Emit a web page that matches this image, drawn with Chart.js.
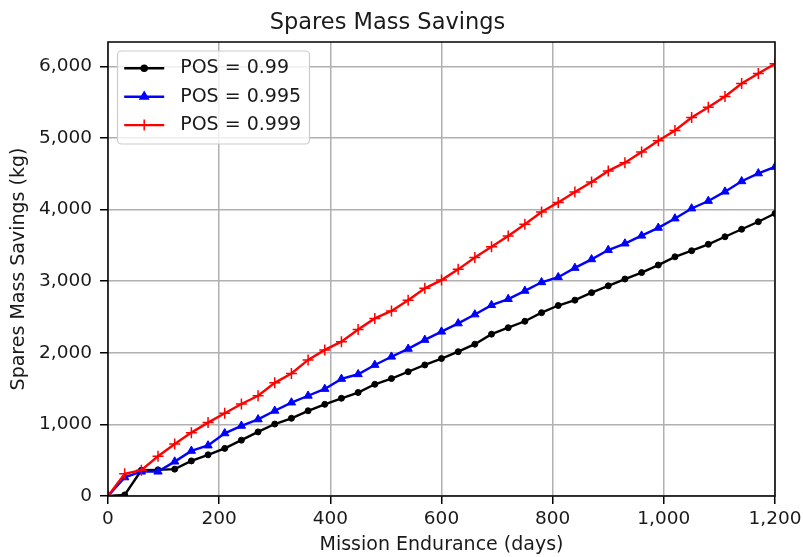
<!DOCTYPE html>
<html>
<head>
<meta charset="utf-8">
<title>Spares Mass Savings</title>
<script src="https://cdn.jsdelivr.net/npm/chart.js@4/dist/chart.umd.min.js"></script>
<style>
    body { margin: 0; background: #ffffff; }
    canvas { display: block; }
</style>
</head>
<body>
<canvas id="myChart" width="803" height="557"></canvas>
<script>
// ミッション日数（x軸）
const days = [
    0, 30, 60, 90, 120, 150, 180, 210, 240, 270, 300, 330, 360, 390,
    420, 450, 480, 510, 540, 570, 600, 630, 660, 690, 720, 750, 780, 810,
    840, 870, 900, 930, 960, 990, 1020, 1050, 1080, 1110, 1140, 1170, 1200,
];

// POS = 0.99 の節約質量 (kg)
const pos099 = [
    0, 15, 360, 365, 375, 490, 575, 665, 780, 895, 1005, 1085, 1190, 1280,
    1365, 1445, 1560, 1640, 1735, 1830, 1920, 2015, 2120, 2260, 2350, 2440, 2560, 2660,
    2735, 2840, 2935, 3030, 3120, 3225, 3340, 3425, 3515, 3620, 3725, 3830, 3945,
];

// POS = 0.995 の節約質量 (kg)
const pos0995 = [
    0, 260, 340, 340, 480, 630, 705, 875, 980, 1070, 1190, 1305, 1400, 1495,
    1635, 1700, 1830, 1945, 2055, 2180, 2295, 2410, 2535, 2665, 2750, 2865, 2985, 3055,
    3185, 3305, 3435, 3525, 3635, 3745, 3875, 4015, 4120, 4250, 4395, 4505, 4595,
];

// POS = 0.999 の節約質量 (kg)
const pos0999 = [
    0, 310, 360, 555, 725, 885, 1025, 1155, 1285, 1400, 1580, 1710, 1900, 2040,
    2155, 2325, 2480, 2585, 2735, 2900, 3015, 3165, 3330, 3480, 3630, 3795, 3965, 4100,
    4245, 4385, 4540, 4655, 4805, 4960, 5105, 5285, 5430, 5580, 5760, 5900, 6035,
];

// 系列名・色・マーカー
const seriesNames = ["POS = 0.99", "POS = 0.995", "POS = 0.999"];
const seriesColors = ["#000000", "#0000ff", "#ff0000"];
const seriesMarkers = ["circle", "triangle", "cross"];
const markerSizes = [3, 4.8, 5.5];

// 目盛り
const xTicks = [0, 200, 400, 600, 800, 1000, 1200];
const yTicks = [0, 1000, 2000, 3000, 4000, 5000, 6000];

const FONT = "'DejaVu Sans', 'Liberation Sans', sans-serif";
const TEXT_COLOR = "#1a1a1a";

// x と y を組み合わせて点のリストにする
function toPoints(values) {
    return days.map((d, i) => ({ x: d, y: values[i] }));
}

// 枠線と凡例を描くプラグイン
const frameAndLegend = {
    id: "frameAndLegend",
    afterDatasetsDraw(chart) {
        const { ctx, chartArea } = chart;
        ctx.save();
        // 枠線
        ctx.strokeStyle = "#000000";
        ctx.lineWidth = 1.5;
        ctx.strokeRect(chartArea.left, chartArea.top, chartArea.right - chartArea.left, chartArea.bottom - chartArea.top);

        // 凡例の箱
        const bx = chartArea.left + 9.5;
        const by = chartArea.top + 9;
        const bw = 192;
        const bh = 93;
        ctx.beginPath();
        ctx.roundRect(bx, by, bw, bh, 4);
        ctx.fillStyle = "rgba(255, 255, 255, 0.8)";
        ctx.fill();
        ctx.strokeStyle = "#cccccc";
        ctx.lineWidth = 1.2;
        ctx.stroke();

        // 凡例の各行
        seriesNames.forEach((name, i) => {
            const y = by + 17.3 + i * 28.4;
            ctx.strokeStyle = seriesColors[i];
            ctx.fillStyle = seriesColors[i];
            ctx.lineWidth = 2.4;
            ctx.beginPath();
            ctx.moveTo(bx + 6.7, y);
            ctx.lineTo(bx + 46.7, y);
            ctx.stroke();
            ctx.lineWidth = 1.5;
            Chart.helpers.drawPoint(ctx, {
                pointStyle: seriesMarkers[i],
                radius: markerSizes[i],
                borderWidth: 1.5,
                rotation: 0,
            }, bx + 26.7, y);
            ctx.fillStyle = TEXT_COLOR;
            ctx.font = "19px " + FONT;
            ctx.textAlign = "left";
            ctx.textBaseline = "middle";
            ctx.fillText(name, bx + 62.7, y);
        });
        ctx.restore();
    },
};

// グラフの表示関数
function drawChart() {
    const seriesValues = [pos099, pos0995, pos0999];
    const datasets = seriesValues.map((values, i) => ({
        label: seriesNames[i],
        data: toPoints(values),
        borderColor: seriesColors[i],
        backgroundColor: seriesColors[i],
        pointBackgroundColor: seriesColors[i],
        pointBorderColor: seriesColors[i],
        borderWidth: 2.4,
        pointStyle: seriesMarkers[i],
        pointRadius: markerSizes[i],
        pointBorderWidth: i === 2 ? 1.5 : 1,
        tension: 0,
        clip: 0,
        order: 3 - i,
    }));

    const ctx = document.getElementById("myChart");
    new Chart(ctx, {
        type: "line",
        data: { datasets },
        options: {
            responsive: false,
            animation: false,
            layout: { padding: { left: 0, right: 28, top: 0, bottom: 0 } },
            plugins: {
                legend: { display: false },
                tooltip: { enabled: false },
                title: {
                    display: true,
                    text: "Spares Mass Savings",
                    color: TEXT_COLOR,
                    font: { family: FONT, size: 22.5, weight: "normal" },
                    padding: { top: 9.5, bottom: 5.5 },
                },
            },
            scales: {
                x: {
                    type: "linear",
                    min: 0,
                    max: 1200,
                    afterBuildTicks: (scale) => {
                        scale.ticks = xTicks.map((v) => ({ value: v }));
                    },
                    afterFit: (scale) => {
                        scale.height = 61;
                        scale.paddingLeft = 0;
                        scale.paddingRight = 0;
                    },
                    ticks: {
                        color: TEXT_COLOR,
                        font: { family: FONT, size: 18.5 },
                        padding: 4.5,
                        maxRotation: 0,
                        autoSkip: false,
                        callback: (v) => v.toLocaleString("en-US"),
                    },
                    grid: {
                        color: "#b0b0b0",
                        lineWidth: 1.5,
                        tickColor: "#000000",
                        tickWidth: 1.5,
                        tickLength: 8,
                    },
                    border: { display: false },
                    title: {
                        display: true,
                        text: "Mission Endurance (days)",
                        color: TEXT_COLOR,
                        font: { family: FONT, size: 19 },
                        padding: { top: 0, bottom: 1 },
                    },
                },
                y: {
                    type: "linear",
                    min: 0,
                    max: 6340,
                    afterBuildTicks: (scale) => {
                        scale.ticks = yTicks.map((v) => ({ value: v }));
                    },
                    afterFit: (scale) => {
                        scale.width = 108;
                    },
                    ticks: {
                        color: TEXT_COLOR,
                        font: { family: FONT, size: 18.5 },
                        padding: 8,
                        callback: (v) => v.toLocaleString("en-US"),
                    },
                    grid: {
                        color: "#b0b0b0",
                        lineWidth: 1.5,
                        tickColor: "#000000",
                        tickWidth: 1.5,
                        tickLength: 8,
                    },
                    border: { display: false },
                    title: {
                        display: true,
                        text: "Spares Mass Savings (kg)",
                        color: TEXT_COLOR,
                        font: { family: FONT, size: 19 },
                        padding: { top: 8, bottom: 0 },
                    },
                },
            },
        },
        plugins: [frameAndLegend],
    });
}

// ページを読み込んだときに表示する
window.onload = function () {
    drawChart();
};
</script>
</body>
</html>
